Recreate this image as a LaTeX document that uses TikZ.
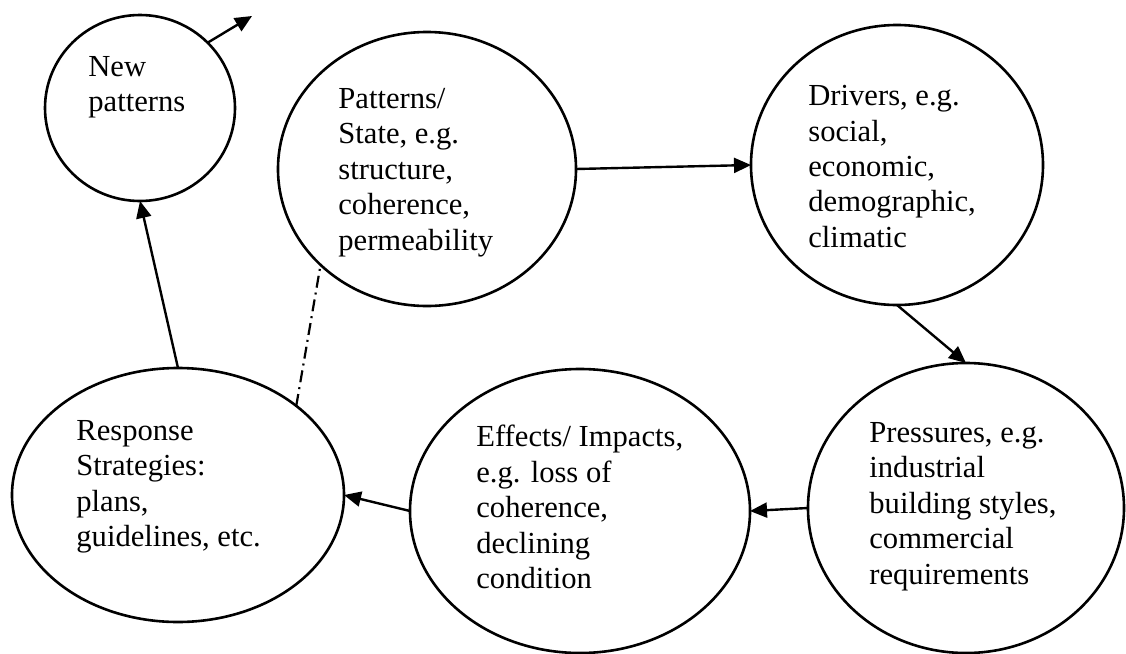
\documentclass[tikz,border=0pt]{standalone}
\usepackage{fontspec}
\setmainfont{Liberation Serif}
\usetikzlibrary{shapes.geometric,arrows.meta}
\begin{document}
\begin{tikzpicture}[x=0.5pt,y=-0.5pt,
  bub/.style={draw, ellipse, line width=1.3pt, inner sep=0pt, outer sep=0pt},
  lbl/.style={anchor=north west, align=left, inner sep=0pt, font=\fontsize{15.3}{17.7}\selectfont},
  conn/.style={line width=1.2pt, -{Triangle[length=8.5pt,width=7.5pt]}},
  dashdotline/.style={line width=1.1pt, dash pattern=on 6pt off 2.5pt on 1pt off 2.5pt},
]
\useasboundingbox (0,0) rectangle (1126,654);
\fill[white] (0,0) rectangle (1126,654);
% bubbles
\node[bub, minimum width=95pt,  minimum height=93pt]  (np) at (140,108) {};
\node[bub, minimum width=149pt, minimum height=137pt] (ps) at (427,169) {};
\node[bub, minimum width=146pt, minimum height=140pt] (dr) at (897,165) {};
\node[bub, minimum width=158pt, minimum height=145pt] (pr) at (966,508) {};
\node[bub, minimum width=170pt, minimum height=142pt] (ef) at (580,511) {};
\node[bub, minimum width=166pt, minimum height=127pt] (rs) at (178,495) {};
% labels
\node[lbl] (npt) at (88,56)  {New\\patterns};
\node[lbl] (pst) at (338,88) {Patterns/\\State, e.g.\\structure,\\coherence,\\permeability};
\node[lbl] (drt) at (808,85) {Drivers, e.g.\\social,\\economic,\\demographic,\\climatic};
\node[lbl] (prt) at (869,422) {Pressures, e.g.\\industrial\\building styles,\\commercial\\requirements};
\node[lbl] (eft) at (476,425) {Effects/ Impacts,\\e.g. loss of\\coherence,\\declining\\condition};
\node[lbl] (rst) at (76,420) {Response\\Strategies:\\plans,\\guidelines, etc.};
% connectors
\coordinate (npout) at (252,16);
\draw[conn] (np.44.6) -- (npout);
\draw[conn] (rs.north) -- (np.south);
\draw[conn] (ps.east) -- (dr.west);
\draw[conn] (dr.south) -- (pr.north);
\draw[conn] (pr.west) -- (ef.east);
\draw[conn] (ef.west) -- (rs.east);
\draw[dashdotline] (rs.37.6) -- (ps.222.4);
\end{tikzpicture}
\end{document}
